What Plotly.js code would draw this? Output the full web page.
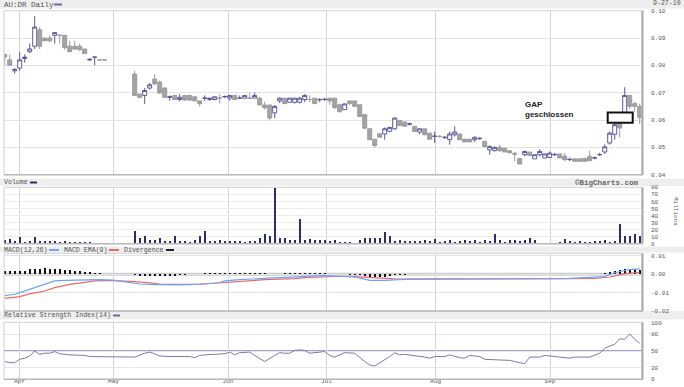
<!DOCTYPE html>
<html><head><meta charset="utf-8">
<script src="https://cdn.plot.ly/plotly-3.0.1.min.js"></script>
<style>html,body{margin:0;padding:0;background:#fff;}#chart{width:684px;height:387px;}</style>
</head><body><div id="chart"></div>
<script>
// ---- data (bar index 0..127, daily, late Mar 2010 .. 27 Sep 2010) ----
const monthLabels = ['Apr','May','Jun','Jul','Aug','Sep'];
const monthIdx = [2.98, 21.76, 44.66, 64.36, 86.2, 109.06];

const openP = [.084,.082,.078,.079,.0825,.085,.087,.093,.090,.090,.091,.091,.091,.087,.087,.087,.086,.082,.083,.082,.082,
 null,null,null,null,null,
 .0768,.0695,.069,.0717,.075,.0739,.0717,.0683,.069,.0675,.069,.069,.0685,.067,.068,.0675,.0675,.068,.0685,.068,.069,.068,.068,.068,.068,
 .068,.0655,.0655,.0626,.067,.068,.0665,.0665,.0665,.0675,.0675,.068,.0674,.0675,.068,.068,.0656,.0638,.067,.067,.0656,.062,.0568,.053,
 .055,.0549,.0559,.0568,.0598,.0593,.0585,.0577,.0556,.0568,.0552,.054,.054,.0536,.0528,.0546,.0549,.053,.053,.0528,.0532,.0522,.0491,
 .0488,.050,.0497,.0488,.0478,.0459,.0473,.0483,.0458,.0473,.0461,.0463,.0473,.0476,.0468,.0455,.0458,.0458,.046,.0467,.0461,.0473,
 .0483,.0516,.0548,.0589,.060,.069,.066,.065];
const highP = [.084,.084,.079,.085,.084,.088,.098,.094,.090,.091,.092,.091,.091,.089,.089,.088,.086,.0827,.083,.082,.082,
 null,null,null,null,null,
 .078,.0695,.0717,.0735,.0768,.0745,.072,.069,.069,.0695,.069,.069,.0685,.067,.069,.068,.0685,.0695,.069,.069,.069,.069,.069,.070,.070,
 .0685,.0667,.0655,.0655,.0683,.068,.068,.068,.0685,.0695,.069,.068,.068,.068,.068,.068,.066,.066,.067,.067,.0656,.062,.0568,.053,
 .055,.0573,.0575,.061,.0601,.0593,.059,.0577,.0568,.0568,.0552,.0558,.0545,.054,.0558,.0577,.0549,.053,.053,.054,.0537,.0522,.0507,
 .0503,.051,.0497,.0488,.0483,.046,.0488,.0483,.0473,.0493,.0476,.0485,.048,.0476,.0479,.0463,.0458,.0458,.046,.0488,.0466,.048,
 .0511,.0558,.0589,.0595,.072,.069,.0667,.066];
const lowP = [.080,.080,.077,.078,.081,.0845,.086,.086,.0888,.0885,.088,.088,.0857,.085,.0857,.0853,.0843,.0815,.080,.082,.082,
 null,null,null,null,null,
 .0687,.068,.0659,.0711,.0727,.0695,.068,.0671,.0673,.0668,.067,.067,.067,.065,.067,.067,.0672,.066,.068,.067,.0673,.068,.068,.068,.068,
 .0655,.0638,.060,.0607,.0662,.066,.0665,.066,.066,.0665,.0665,.066,.0665,.067,.0656,.064,.063,.0638,.0656,.065,.0613,.057,.0528,.050,
 .0537,.0528,.0555,.0565,.058,.0577,.058,.0558,.0548,.0546,.053,.0516,.0535,.053,.051,.054,.0528,.052,.052,.052,.0527,.0503,.0473,
 .0485,.0483,.0483,.048,.0449,.0439,.0467,.047,.0458,.0467,.0461,.0463,.0468,.0461,.0449,.045,.0449,.0449,.0449,.0451,.0456,.0468,
 .0476,.051,.0528,.0537,.0595,.064,.063,.0585];
const closeP = [.083,.080,.0785,.082,.083,.086,.094,.087,.089,.089,.092,.091,.0865,.085,.086,.0857,.0843,.0822,.083,.082,.082,
 null,null,null,null,null,
 .069,.0683,.0708,.0729,.0733,.0699,.0683,.0685,.0675,.0683,.0673,.0673,.067,.066,.068,.068,.0685,.068,.0686,.069,.0675,.068,.069,.068,.069,
 .0655,.0645,.0607,.065,.068,.066,.068,.068,.068,.069,.0675,.066,.0675,.0676,.067,.0646,.063,.0659,.066,.065,.0613,.057,.0528,.0507,
 .0537,.0568,.0573,.0607,.058,.0577,.0586,.0558,.0568,.0546,.053,.0541,.054,.0537,.0549,.0556,.0528,.052,.052,.0537,.0533,.0503,.0503,
 .050,.0488,.0483,.048,.0475,.0439,.0485,.047,.0473,.0485,.0476,.0479,.0474,.0461,.0455,.0456,.0449,.0449,.0449,.0451,.0462,.0474,
 .0502,.0552,.0583,.0571,.069,.065,.065,.061];

// volume in millions
const volume = [5.3,6.7,4.3,10,2.9,3.8,9.1,4.3,4.3,3.8,3.8,2.4,3.8,1.9,2.4,2.9,2.4,2.4,1.4,0,0,
 null,null,null,null,null,
 18.7,8.1,11.5,5.7,5.7,7.7,3.3,3.3,10.5,3.3,3.3,2.4,5.7,10.5,18.7,
 3.3,3.8,5.7,3.3,3.8,3.8,3.3,2.9,3.3,3.3,8.1,13.4,11.5,79.4,7.7,7.7,5.7,5.7,34.4,
 5.3,7.2,5.3,5.7,4.8,3.8,5.3,2.9,2.9,2.9,1,5.3,7.7,8.1,7.7,8.1,16.3,11.5,
 3.8,4.8,3.8,3.8,3.8,3.8,4.8,3.8,7.2,1.9,3.3,5.7,2.9,3.3,4.8,3.3,4.8,1.9,4.8,3.8,14.4,
 5.7,2.9,5.7,4.8,4.3,4.8,8.1,4.8,1.4,1.4,1.4,1.4,
 1.9,6.2,3.8,1.9,3.3,1.9,2.9,3.3,3.3,4.8,1.9,3.8,27.3,10.5,11,14.4,11.5];

const macdIdx = [0,2,3,5,7,9,10,12,14,16,19,22,24,27,30,32,35,37,40,43,44,47,50,52,55,58,60,63,65,67,70,72,73,76,78,81,86,92,97,102,105,107,110,113,115,118,120,121,123,125,127];
const macdVal = [-.0116,-.0109,-.010,-.0082,-.0065,-.0049,-.0036,-.0033,-.0031,-.0029,-.0029,-.0033,-.0040,-.0053,-.0056,-.0058,-.0058,-.0056,-.0053,-.0045,
 -.0036,-.0029,-.0025,-.0022,-.0020,-.0016,-.0011,-.0007,-.0009,-.0011,-.0015,-.0027,-.0033,-.0033,-.0029,-.0027,-.0025,-.0025,-.0025,-.0027,
 -.0027,-.0025,-.0024,-.0022,-.0020,-.0018,-.0013,0,.0015,.0025,.0029];
const emaIdx = [0,3,5,8,10,13,16,18,21,23,26,29,31,34,37,39,42,44,47,50,52,55,58,60,63,65,67,70,73,75,78,81,100,105,109,113,118,121,124,127];
const emaVal = [-.0131,-.0122,-.0107,-.0091,-.0073,-.0055,-.0044,-.0036,-.0033,-.0035,-.0040,-.0047,-.0053,-.0055,-.0056,-.0053,-.0049,-.0044,-.0038,-.0033,
 -.0029,-.0027,-.0024,-.0018,-.0015,-.0011,-.0011,-.0013,-.0018,-.0024,-.0025,-.0027,-.0027,-.0027,-.0025,-.0024,-.0022,-.0015,.0002,.0011];
const divergence = [.0015,.0016,.0015,.0018,.002,.0026,.0029,.0031,.0032,.003,.0028,.0026,.0024,.0022,.0019,.0015,.0012,.001,.0008,.0006,.0004,
 null,null,null,null,null,
 -.0006,-.0008,-.0009,-.0009,-.0009,-.0008,-.0008,-.0007,-.0007,-.0006,-.0002,-.0001,0,.0002,
 .0005,.0006,.0007,.0008,.0008,.0009,.0009,.0009,.0008,.0008,.0007,.0006,.0005,.0002,.0002,.0003,
 .0005,.0006,.0006,.0007,.0007,.0007,.0007,.0006,.0005,.0004,.0001,.0001,-.0001,-.0002,-.0002,-.0004,
 -.001,-.0014,-.0015,-.0015,-.0013,-.001,-.0006,
 -.0003,-.0002,-.0001,0,0,0,.0001,.0001,0,0,0,0,0,0,0,0,.0001,.0001,.0002,.0002,
 .0004,.0004,.0004,.0004,.0004,.0004,.0004,.0002,.0001,.0001,.0002,.0004,
 .0002,.0001,.0001,.0001,.0001,.0001,.0001,.0002,.0003,
 .0008,.0012,.0016,.0021,.0026,.0028,.0026,.0022];

const rsiIdx = [0,1,2,3,4,5,6,7,8,9,10,11,13,15,16,17,20,24,26,28,29,30,31,33,35,37,38,39,40,42,44,45,46,47,48,49,50,51,52,54,55,56,57,58,59,60,61,63,64,65,66,68,70,72,73,74,76,77,78,79,80,82,84,85,86,88,89,91,92,93,95,96,98,99,101,102,104,105,106,107,108,110,112,113,114,116,117,119,120,121,122,123,124,125,126,127];
const rsiVal = [31,29,29,35,37,41,50,44,46,46,49,45,43,43,42,40,40,40,39,46,48,45,41,40,40,40,38,42,43,44,45,48,43,47,47,48,42,37,31,42,47,46,46,51,52,51,46,48,49,42,39,47,46,31,25,23,34,40,47,43,44,42,39,37,40,40,43,38,37,42,40,35,34,33,33,31,27,39,39,39,42,40,39,37,39,39,39,46,55,59,62,72,71,81,71,64];

const priceTicks = [0.04,0.05,0.06,0.07,0.08,0.09,0.10];
const priceTickText = ['0.04','0.05','0.06','0.07','0.08','0.09','0.10'];
const volTicks = [0,10,20,30,40,50,60,70,80];
const macdTicks = [0.01,0,-0.01,-0.02];
const macdTickText = ['0.01','0.00','-0.01','-0.02'];
const rsiTicks = [0,20,50,80,100];

// ---- build ----
const W=684,H=387;
const px=v=>v/W, py=v=>1-v/H;
const MONO="'Liberation Mono','DejaVu Sans Mono',monospace";
const cx=[],co=[],ch=[],cl=[],cc=[];
openP.forEach((o,i)=>{ if(o!==null){cx.push(i);co.push(o);ch.push(highP[i]);cl.push(lowP[i]);cc.push(closeP[i]);} });
const vx=[],vy=[]; volume.forEach((v,i)=>{ if(v!==null){vx.push(i);vy.push(v);} });
const gx=[],gy=[]; divergence.forEach((v,i)=>{ if(v!==null){gx.push(i);gy.push(v);} });

const traces = [
 {type:'candlestick',x:cx,open:co,high:ch,low:cl,close:cc,xaxis:'x',yaxis:'y',
  increasing:{line:{color:'#5a5a9e',width:1},fillcolor:'#ffffff'},
  decreasing:{line:{color:'#9c9c9c',width:1},fillcolor:'#a4a4a4'},
  whiskerwidth:0,hoverinfo:'skip',showlegend:false},
 {type:'bar',x:vx,y:vy,xaxis:'x2',yaxis:'y2',width:0.42,marker:{color:'#2d2d6b',line:{width:0}},hoverinfo:'skip',showlegend:false},
 {type:'bar',x:gx,y:gy,xaxis:'x3',yaxis:'y3',width:0.45,marker:{color:'#111111',line:{width:0}},hoverinfo:'skip',showlegend:false},
 {type:'scatter',mode:'lines',x:emaIdx,y:emaVal,xaxis:'x3',yaxis:'y3',line:{color:'#e86a6a',width:1.2},hoverinfo:'skip',showlegend:false},
 {type:'scatter',mode:'lines',x:macdIdx,y:macdVal,xaxis:'x3',yaxis:'y3',line:{color:'#6fa3f5',width:1.2},hoverinfo:'skip',showlegend:false},
 {type:'scatter',mode:'lines',x:rsiIdx,y:rsiVal,xaxis:'x4',yaxis:'y4',line:{color:'#7c7aa8',width:1},hoverinfo:'skip',showlegend:false}
];

const xr=[-0.14,127.46];
function xa(anchor,labels){
 return {range:xr,domain:[px(4),px(642)],anchor:anchor,tickmode:'array',tickvals:monthIdx,ticktext:monthLabels,
  showticklabels:labels,ticks:'',showgrid:true,gridcolor:'#d6d6d6',gridwidth:1,zeroline:false,showline:false,fixedrange:true,
  tickfont:{family:MONO,size:6,color:'#555'},ticklabelstandoff:-3,rangeslider:{visible:false}};
}
function ya(anchor,top,bot,range,vals,text,grid){
 const o={domain:[py(bot),py(top)],range:range,anchor:anchor,side:'right',tickmode:'array',tickvals:vals,
  ticks:'',showgrid:true,gridcolor:grid,gridwidth:1,zeroline:false,showline:false,fixedrange:true,
  tickfont:{family:MONO,size:6,color:'#555'},ticklabelstandoff:8};
 if(text) o.ticktext=text;
 return o;
}
const P={top:10.7,bot:174.7}, V={top:187.3,bot:243.7}, M={top:253.3,bot:311}, R={top:322.3,bot:379.3};

const shapes=[];
// header bands
[[0,8.5],[178.5,186],[246.5,252.5],[311,319.5]].forEach(b=>shapes.push({type:'rect',xref:'paper',yref:'paper',x0:0,x1:1,y0:py(b[1]),y1:py(b[0]),fillcolor:'#eeeeee',line:{width:0},layer:'below'}));
// MACD zero band, RSI 50 line
shapes.push({type:'line',xref:'x3',yref:'y3',x0:xr[0],x1:xr[1],y0:0,y1:0,line:{color:'#cdcdcd',width:3},layer:'below'});
shapes.push({type:'line',xref:'x4',yref:'y4',x0:xr[0],x1:xr[1],y0:50,y1:50,line:{color:'#a3a3cc',width:2},layer:'below'});
// frames
[P,V,M,R].forEach(p=>{
 shapes.push({type:'rect',xref:'paper',yref:'paper',x0:px(4),x1:px(642),y0:py(p.bot),y1:py(p.top),line:{color:'#d0d0d0',width:1}});
 shapes.push({type:'line',xref:'paper',yref:'paper',x0:px(642.5),x1:px(642.5),y0:py(p.bot),y1:py(p.top),line:{color:'#a9a9a9',width:2}});
 shapes.push({type:'line',xref:'paper',yref:'paper',x0:px(4),x1:px(643),y0:py(p.bot),y1:py(p.bot),line:{color:'#b9b9b9',width:1.5}});
});
// legend icons
function icon(x0,x1,y,c){shapes.push({type:'line',xref:'paper',yref:'paper',x0:px(x0),x1:px(x1),y0:py(y),y1:py(y),line:{color:c,width:2}});}
icon(54,62,4.5,'#6a6aa6');
icon(30,37,182.5,'#2d2d6b');
icon(49,59,250,'#6fa3f5'); icon(109,119,250,'#e86a6a'); icon(166,174,250,'#222');
icon(113,120,315.5,'#6a6aa6');
// GAP box
shapes.push({type:'rect',xref:'x',yref:'y',x0:120.6,x1:125.6,y0:0.0590,y1:0.0628,fillcolor:'#ffffff',line:{color:'#111',width:2},layer:'above'});

function ann(text,x,y,opt){return Object.assign({text:text,xref:'paper',yref:'paper',x:px(x),y:py(y),xanchor:'left',yanchor:'middle',showarrow:false,
 font:{family:MONO,size:6.6,color:'#555'}},opt||{});}
const annotations=[
 ann('AU:DR Daily',2,4.6,{font:{family:MONO,size:7.5,color:'#555'}}),
 ann('9-27-10',651,3.8,{font:{family:MONO,size:6.6,color:'#555'}}),
 ann('Volume',2,182.5),
 ann('<b>©BigCharts.com</b>',641,182.5,{xanchor:'right',font:{family:MONO,size:7.5,color:'#666'}}),
 ann('MACD(12,26)',2,250), ann('MACD EMA(9)',62,250), ann('Divergence',122,250),
 ann('Relative Strength Index(14)',2,315.5),
 ann('Millions',676,211,{xanchor:'center',textangle:90,font:{family:MONO,size:6,color:'#555'}}),
 {text:'<b>GAP</b><br><b>geschlossen</b>',xref:'x',yref:'y',x:103.7,y:0.0638,xanchor:'left',yanchor:'middle',align:'left',showarrow:false,
  font:{family:"'Liberation Sans',Arial,sans-serif",size:8,color:'#222'}}
];

const layout={width:W,height:H,margin:{l:0,r:0,t:0,b:0},paper_bgcolor:'#fff',plot_bgcolor:'#fff',showlegend:false,
 boxgap:0.2,boxgroupgap:0,bargap:0,
 xaxis:xa('y',false),xaxis2:xa('y2',false),xaxis3:xa('y3',false),xaxis4:xa('y4',true),
 yaxis:ya('x',P.top,P.bot,[0.04,0.10],priceTicks,priceTickText,'#e3e3e3'),
 yaxis2:ya('x2',V.top,V.bot,[0,80],volTicks,null,'#ececec'),
 yaxis3:ya('x3',M.top,M.bot,[-0.02,0.0114],macdTicks,macdTickText,'#e3e3e3'),
 yaxis4:ya('x4',R.top,R.bot,[-1.08,101.8],rsiTicks,null,'#e6e6e6'),
 shapes:shapes,annotations:annotations};
Plotly.newPlot('chart',traces,layout,{staticPlot:true,displayModeBar:false});
</script></body></html>
